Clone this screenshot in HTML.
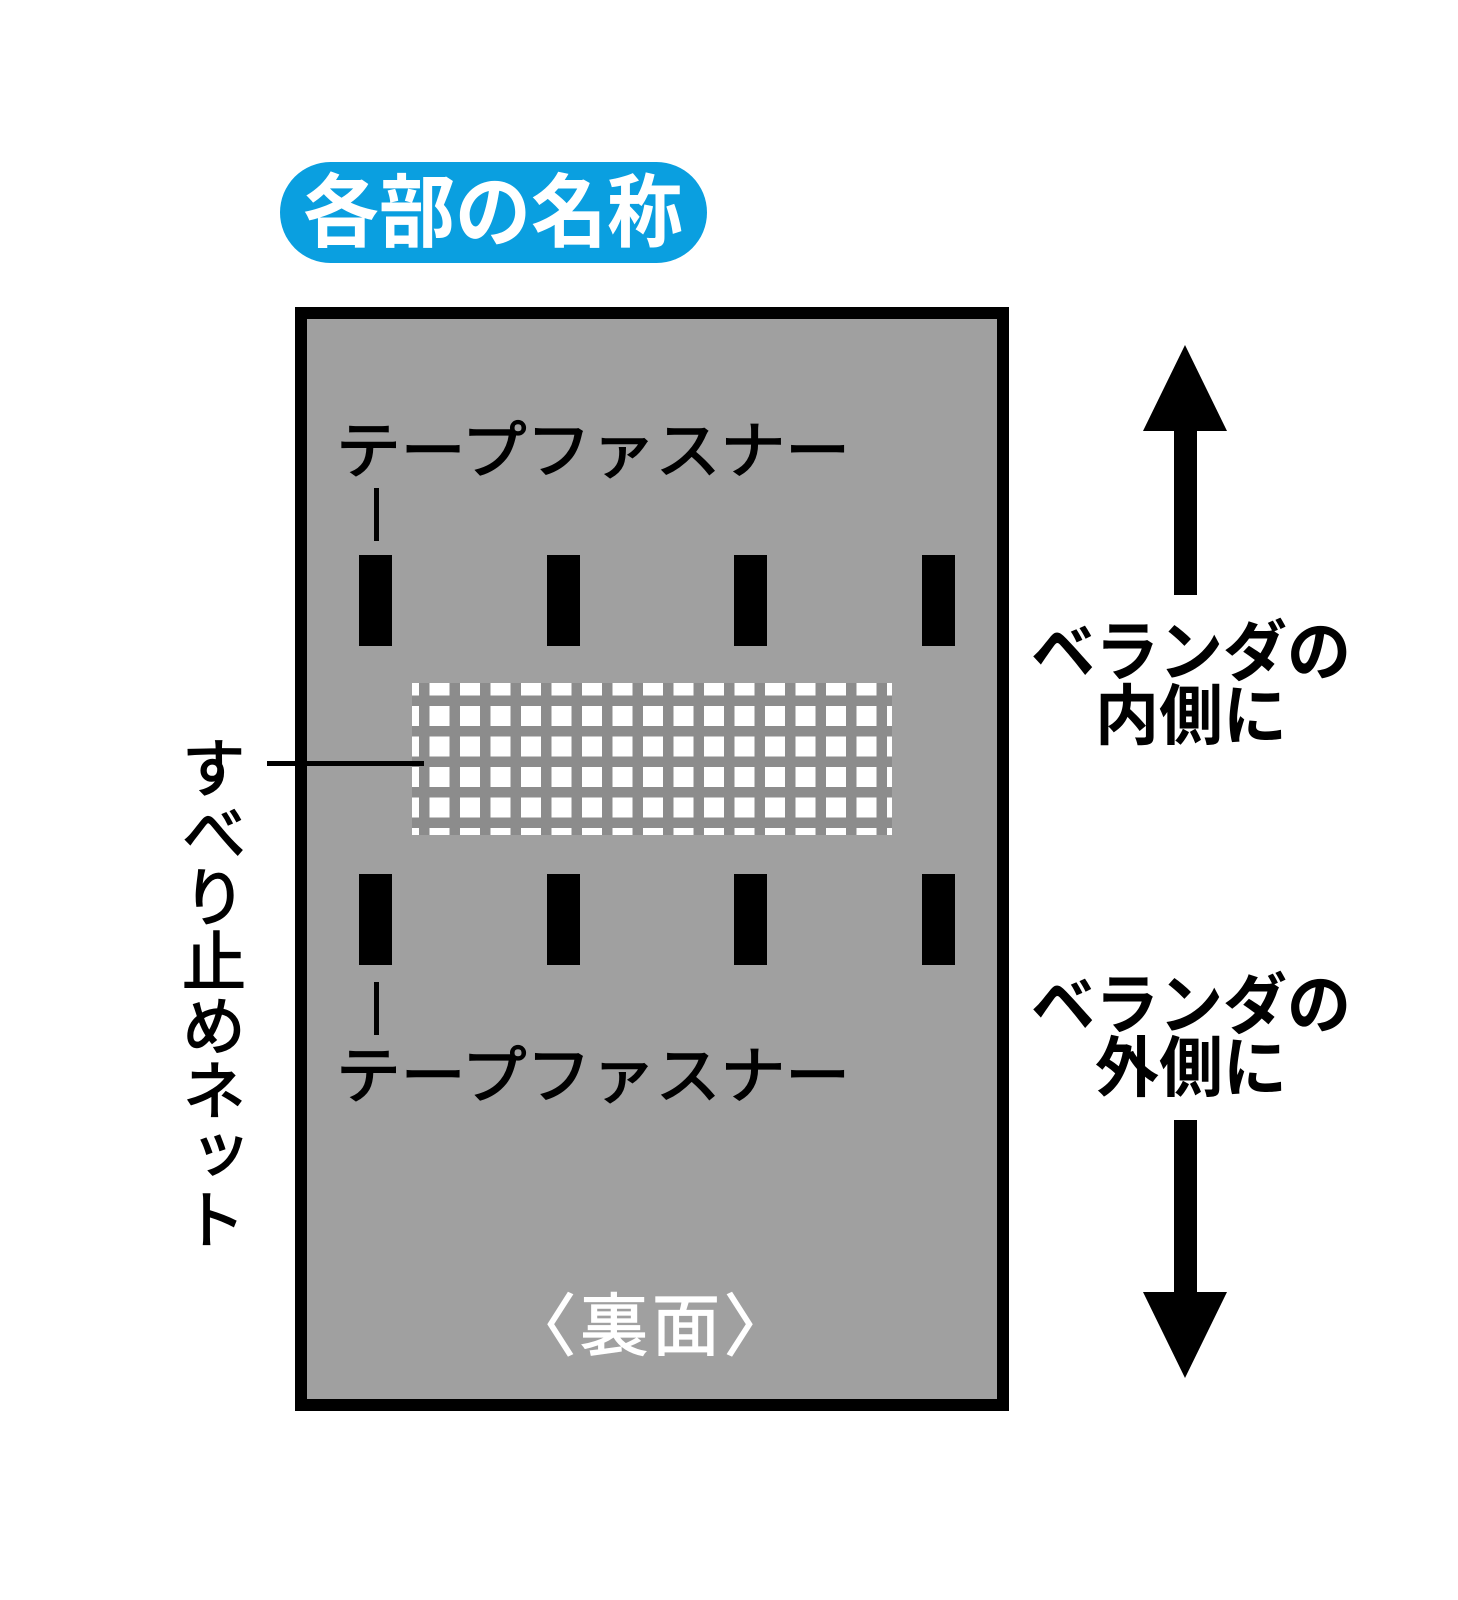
<!DOCTYPE html>
<html><head><meta charset="utf-8"><style>
html,body{margin:0;padding:0;background:#fff}
svg{display:block}
text{font-family:"Liberation Sans","Noto Sans CJK JP",sans-serif}
</style></head><body>
<svg width="1458" height="1600" viewBox="0 0 1458 1600" xmlns="http://www.w3.org/2000/svg">
<defs>
<pattern id="g" x="399" y="675.5" width="30.5" height="30.5" patternUnits="userSpaceOnUse">
<rect width="30.5" height="30.5" fill="#8c8c8c"/>
<rect x="0" y="0" width="20" height="20" fill="#fff"/>
</pattern>
</defs>
<rect x="280" y="162" width="427" height="101" rx="50.5" fill="#0a9fe0"/>
<text x="493" y="213" font-size="80" font-weight="bold" fill="#fff" text-anchor="middle" dominant-baseline="central" textLength="380" lengthAdjust="spacingAndGlyphs">各部の名称</text>
<rect x="301" y="313" width="702" height="1092" fill="#a0a0a0" stroke="#000" stroke-width="12"/>
<rect x="412" y="683" width="480" height="152" fill="url(#g)"/>
<g fill="#000">
<rect x="359" y="555" width="33" height="91"/><rect x="547" y="555" width="33" height="91"/><rect x="734" y="555" width="33" height="91"/><rect x="922" y="555" width="33" height="91"/>
<rect x="359" y="874" width="33" height="91"/><rect x="547" y="874" width="33" height="91"/><rect x="734" y="874" width="33" height="91"/><rect x="922" y="874" width="33" height="91"/>
<rect x="374" y="488" width="5" height="53"/><rect x="374" y="982" width="5" height="53"/>
<rect x="267" y="761" width="157" height="5"/>
<polygon points="1185,345 1227,431 1143,431"/><rect x="1174" y="430" width="23" height="165"/>
<polygon points="1185,1378 1227,1292 1143,1292"/><rect x="1174" y="1120" width="23" height="173"/>
</g>
<text x="336" y="452" font-size="62" fill="#000" stroke="#000" stroke-width="1.5" dominant-baseline="central" textLength="514" lengthAdjust="spacingAndGlyphs">テープファスナー</text>
<text x="336" y="1077" font-size="62" fill="#000" stroke="#000" stroke-width="1.5" dominant-baseline="central" textLength="514" lengthAdjust="spacingAndGlyphs">テープファスナー</text>
<text x="209" y="735" font-size="64" fill="#000" stroke="#000" stroke-width="1.5" style="writing-mode:vertical-rl;text-orientation:upright" textLength="516" lengthAdjust="spacingAndGlyphs">すべり止めネット</text>
<text x="1191" y="652" font-size="66" font-weight="bold" fill="#000" text-anchor="middle" dominant-baseline="central" textLength="320" lengthAdjust="spacingAndGlyphs">ベランダの</text>
<text x="1191" y="716" font-size="66" font-weight="bold" fill="#000" text-anchor="middle" dominant-baseline="central" textLength="192" lengthAdjust="spacingAndGlyphs">内側に</text>
<text x="1191" y="1005" font-size="66" font-weight="bold" fill="#000" text-anchor="middle" dominant-baseline="central" textLength="320" lengthAdjust="spacingAndGlyphs">ベランダの</text>
<text x="1191" y="1068" font-size="66" font-weight="bold" fill="#000" text-anchor="middle" dominant-baseline="central" textLength="192" lengthAdjust="spacingAndGlyphs">外側に</text>
<text x="652" y="1327" font-size="68" fill="#fff" stroke="#fff" stroke-width="1.2" text-anchor="middle" dominant-baseline="central" letter-spacing="4">〈裏面〉</text>
</svg>
</body></html>
